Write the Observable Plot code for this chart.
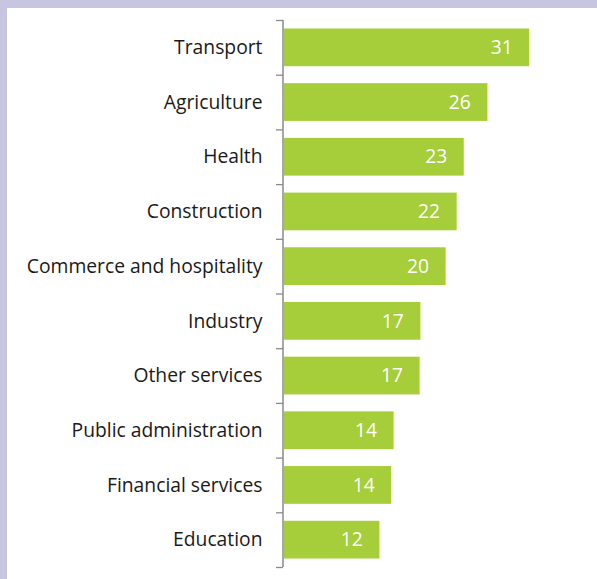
<!DOCTYPE html>
<html><head><meta charset="utf-8">
<script src="https://cdn.jsdelivr.net/npm/d3@7"></script>
<script src="https://cdn.jsdelivr.net/npm/@observablehq/plot@0.6"></script>
<style>
html,body{margin:0;padding:0;background:#c8c5e2;overflow:hidden;}
#wrap{position:absolute;left:7px;top:8px;width:590px;height:571px;background:#fff;}
</style></head><body><div id="wrap"></div>
<script>
const sectors = ["Transport","Agriculture","Health","Construction","Commerce and hospitality","Industry","Other services","Public administration","Financial services","Education"];
const shares = [31.1, 25.8, 22.8, 21.9, 20.5, 17.3, 17.2, 13.9, 13.6, 12.1];
const shareLabels = ["31","26","23","22","20","17","17","14","14","12"];

const data = sectors.map((s, i) => ({s, v: shares[i], label: shareLabels[i]}));
const W = 590, H = 571, MT = 12, MB = 12;
const step = (H - MT - MB) / sectors.length;
const axisColor = "#8a8a8a";

const chart = Plot.plot({
  width: W, height: H,
  marginTop: MT, marginBottom: MB, marginLeft: 277, marginRight: 0,
  style: {background: "#fff", fontFamily: "'Open Sans', sans-serif"},
  x: {domain: [0, 39.7], axis: null},
  y: {domain: sectors, paddingInner: 0.31, paddingOuter: 0.155, round: false, axis: null},
  marks: [
    Plot.barX(data, {x: "v", y: "s", fill: "#a6cd3a"}),
    Plot.ruleX([0], {stroke: axisColor, strokeWidth: 1.5, dx: -1.5}),
    Plot.ruleY(sectors, {y: d => d, x1: 0, x2: 0, insetLeft: -8, insetRight: 1, dy: -step / 2, stroke: axisColor, strokeWidth: 1.3}),
    Plot.ruleY(sectors.slice(-1), {y: d => d, x1: 0, x2: 0, insetLeft: -8, insetRight: 1, dy: step / 2, stroke: axisColor, strokeWidth: 1.3}),
    Plot.text(data, {x: "v", y: "s", text: "label", dx: -17, textAnchor: "end", fill: "#fff", fontSize: 19.3}),
    Plot.text(sectors, {x: 0, y: d => d, text: d => d, dx: -22, textAnchor: "end", fill: "#1a1a1a", fontSize: 19.3})
  ]
});
document.getElementById("wrap").appendChild(chart);
</script>
</body></html>
